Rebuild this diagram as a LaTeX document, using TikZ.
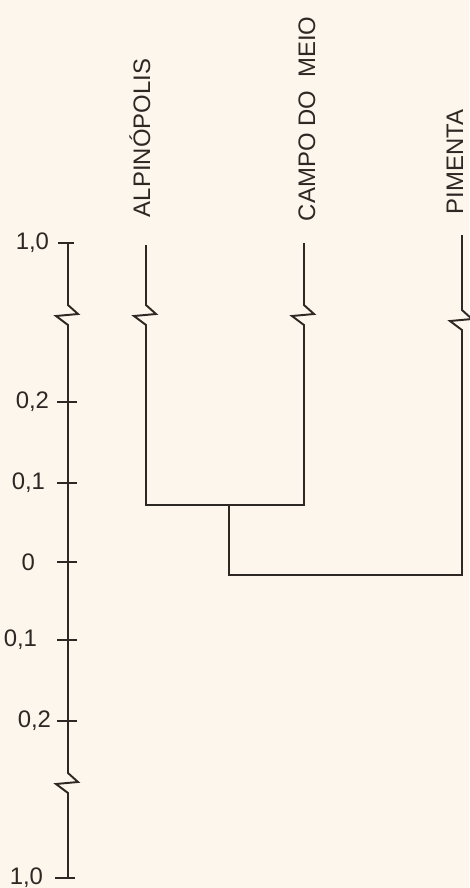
\documentclass[tikz,border=0pt]{standalone}
\usepackage{fontspec}
\setmainfont{Liberation Sans}
\usepackage{tikz}
\usetikzlibrary{calc}
\usepackage{tkz-euclide}
\definecolor{papier}{RGB}{253,246,237}
\definecolor{tinta}{RGB}{45,40,36}

\begin{document}
\begin{tikzpicture}[scale=0.2, line width=1.1pt, draw=tinta,
    rotulo/.style={font=\fontsize{13.6}{16}\selectfont, text=tinta, inner sep=0pt},
    escala/.style={rotulo, anchor=east}]
      \fill[papier] (0,0) rectangle (46.9,88.8);
      \useasboundingbox (0,0) rectangle (46.9,88.8);

      % 1. eixo de similaridade
      \tkzDefPoint(6.8,64.5){T}
      \tkzDefPoint(6.8,57.3){QT}
      \tkzDefPoint(6.8,10.5){QB}
      \tkzDefPoint(6.8,1.0){B}
      \draw (T) -- ($(QT)+(0,1)$) -- ++(1,-0.9) -- ++(-2.2,-0.2) -- ++(1.2,-0.9)
            -- ($(QB)+(0,1)$) -- ++(1,-0.9) -- ++(-2.2,-0.2) -- ++(1.2,-0.9) -- (B);
      \draw (5.8,64.5) -- (7.4,64.5);
      \draw (5.5,1.0) -- (7.5,1.0);
      \foreach \y in {48.6,40.5,32.6,24.8,16.7}
        \draw (5.7,\y) -- (7.7,\y);

      % 2. valores da escala
      \node[escala] (e1) at (5.0,64.5) {1,0};
      \node[escala] (e2) at (5.0,48.6) {0,2};
      \node[escala] (e3) at (4.6,40.5) {0,1};
      \node[escala] (e4) at (3.6,32.6) {0};
      \node[escala] (e5) at (3.8,24.8) {0,1};
      \node[escala] (e6) at (5.2,16.7) {0,2};
      \node[escala] (e7) at (4.4,1.0) {1,0};

      % 3. ramos das localidades
      \tkzDefPoint(14.6,64.3){A}
      \tkzDefPoint(30.4,64.5){C}
      \tkzDefPoint(46.2,65.3){P}
      \tkzDefPoint(14.6,57.3){QA}
      \tkzDefPoint(30.4,57.3){QC}
      \tkzDefPoint(46.2,56.8){QP}
      \tkzDefPoint(14.6,38.3){AJ}
      \tkzDefPoint(30.4,38.3){CJ}
      \tkzDefPoint(22.9,38.3){M}
      \tkzDefPoint(22.9,31.3){MR}
      \tkzDefPoint(46.2,31.3){PR}
      \foreach \p/\q/\r in {A/QA/AJ, C/QC/CJ, P/QP/PR}
        \draw[line join=miter] (\p) -- ($(\q)+(0,1)$) -- ++(1,-0.9) -- ++(-2.2,-0.2)
              -- ++(1.2,-0.9) -- (\r);
      \tkzDrawSegments[tinta, line width=1.1pt, line cap=rect](AJ,CJ M,MR MR,PR)

      % 4. nomes
      \node[rotulo, rotate=90, anchor=west] (alp) at (14.0,67.0) {ALPINÓPOLIS};
      \node[rotulo, rotate=90, anchor=west] (cam) at (30.7,66.6) {CAMPO DO~~MEIO};
      \node[rotulo, rotate=90, anchor=west] (pim) at (45.5,67.3) {PIMENTA};
\end{tikzpicture}
\end{document}
